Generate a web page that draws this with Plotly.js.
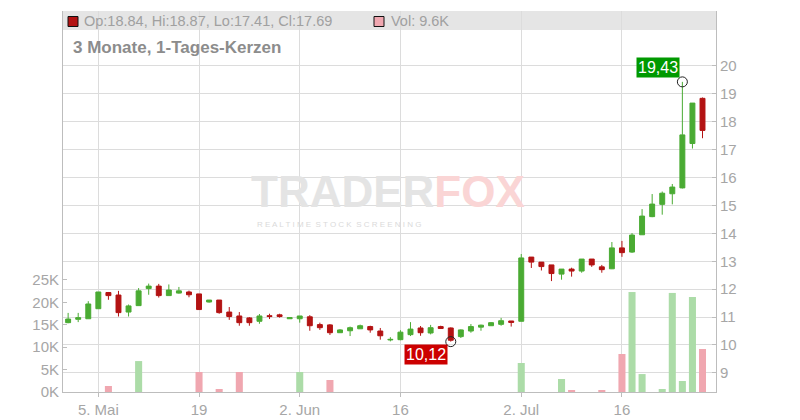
<!DOCTYPE html>
<html>
<head>
<meta charset="utf-8">
<script src="https://cdn.plot.ly/plotly-3.0.1.min.js"></script>
<style>html,body{margin:0;padding:0;background:#fff;}#chart{width:800px;height:420px;}</style>
</head>
<body>
<div id="chart"></div>
<script>
const dates = [
 '2025-04-30','2025-05-01','2025-05-02','2025-05-05','2025-05-06','2025-05-07','2025-05-08','2025-05-09',
 '2025-05-12','2025-05-13','2025-05-14','2025-05-15','2025-05-16','2025-05-19','2025-05-20','2025-05-21',
 '2025-05-22','2025-05-23','2025-05-26','2025-05-27','2025-05-28','2025-05-29','2025-05-30','2025-06-02',
 '2025-06-03','2025-06-04','2025-06-05','2025-06-06','2025-06-09','2025-06-10','2025-06-11','2025-06-12',
 '2025-06-13','2025-06-16','2025-06-17','2025-06-18','2025-06-19','2025-06-20','2025-06-23','2025-06-24',
 '2025-06-25','2025-06-26','2025-06-27','2025-06-30','2025-07-01','2025-07-02','2025-07-03','2025-07-04',
 '2025-07-07','2025-07-08','2025-07-09','2025-07-10','2025-07-11','2025-07-14','2025-07-15','2025-07-16',
 '2025-07-17','2025-07-18','2025-07-21','2025-07-22','2025-07-23','2025-07-24','2025-07-25','2025-07-28'
];
const opens = [10.80,10.92,10.94,11.30,11.88,11.79,11.18,11.41,12.02,12.11,11.77,11.86,11.90,11.83,11.54,11.61,
 11.18,11.04,10.97,10.85,11.05,11.08,10.94,10.94,11.01,10.73,10.72,10.44,10.51,10.58,10.66,10.50,
 10.18,10.19,10.37,10.61,10.43,10.66,10.61,10.30,10.50,10.64,10.69,10.74,10.86,10.85,13.15,12.97,
 12.87,12.54,12.72,12.65,13.08,12.80,12.73,13.48,13.33,13.95,14.60,15.04,15.42,15.63,17.22,18.84];
const highs = [11.15,11.15,11.57,11.90,11.90,11.94,11.45,12.04,12.20,12.19,12.17,12.08,11.95,11.83,11.61,11.61,
 11.36,11.18,11.00,11.11,11.12,11.12,11.00,11.04,11.07,10.80,10.75,10.57,10.66,10.73,10.69,10.61,
 10.28,10.53,10.82,10.68,10.72,10.69,10.63,10.56,10.75,10.73,10.82,10.97,10.86,13.26,13.15,12.97,
 12.87,12.72,12.77,13.08,13.08,12.87,13.69,13.73,14.01,14.87,15.41,15.50,15.77,19.43,18.67,18.87];
const lows = [10.78,10.82,10.94,11.30,11.62,11.02,11.02,11.41,11.80,11.70,11.77,11.84,11.71,11.27,11.52,11.12,
 10.90,10.69,10.69,10.76,10.93,10.98,10.94,10.80,10.51,10.54,10.36,10.44,10.32,10.58,10.44,10.19,
 10.13,10.17,10.32,10.33,10.38,10.59,10.12,10.25,10.44,10.51,10.68,10.69,10.66,10.85,12.76,12.67,
 12.29,12.34,12.45,12.59,12.80,12.59,12.72,13.16,13.30,13.95,14.58,14.67,15.04,15.61,17.04,17.41];
const closes = [10.93,10.98,11.47,11.90,11.77,11.16,11.40,11.94,12.11,11.77,11.97,11.94,11.80,11.27,11.61,11.16,
 11.02,10.80,10.80,11.04,11.02,11.02,10.98,11.04,10.69,10.62,10.44,10.54,10.62,10.69,10.54,10.33,
 10.20,10.46,10.57,10.44,10.62,10.59,10.17,10.54,10.66,10.71,10.80,10.87,10.81,13.12,12.97,12.81,
 12.56,12.72,12.65,13.08,12.87,12.70,13.48,13.31,13.94,14.62,15.05,15.44,15.66,17.53,18.67,17.69];
const volumes = [0,0,0,0,1340,0,0,6900,0,0,0,0,0,4460,0,670,
 0,4460,0,0,0,0,0,4460,0,0,2680,0,0,0,0,0,
 0,0,0,0,0,0,0,0,0,0,0,0,0,6470,0,0,
 0,2900,450,0,0,450,0,8480,22300,4000,0,670,22100,2450,21200,9600];
const xTickDates = ['2025-05-05','2025-05-19','2025-06-02','2025-06-16','2025-07-02','2025-07-16'];
const xTickLabels = ['5. Mai','19','2. Jun','16','2. Jul','16'];
const priceTicks = [9,10,11,12,13,14,15,16,17,18,19,20];
const volTicks = [0,5000,10000,15000,20000,25000];
const volTickLabels = ['0K','5K','10K','15K','20K','25K'];
const chartTitle = '3 Monate, 1-Tages-Kerzen';

const GREEN = '#4aab33', RED = '#b31313';
const VGREEN = '#acdca8', VPINK = '#f0a7b0';
const FONT = 'Liberation Sans, Arial, sans-serif';
const AX = '#a6a6a6';

const volColors = closes.map((c, i) => c >= opens[i] ? VGREEN : VPINK);

let minI = 0, maxI = 0;
lows.forEach((v, i) => { if (v < lows[minI]) minI = i; });
highs.forEach((v, i) => { if (v > highs[maxI]) maxI = i; });
const n = dates.length - 1;
const fmtDE = v => v.toFixed(2).replace('.', ',');
const lastVol = (volumes[n] / 1000).toFixed(1) + 'K';

const L = 63, R = 716, T = 11, B = 392;
const px = x => (x - L) / (R - L);
const py = y => 1 - (y - T) / (B - T);

const traces = [
  {type: 'bar', x: dates, y: volumes, marker: {color: volColors}, width: 0.7,
   xaxis: 'x', yaxis: 'y', hoverinfo: 'skip'},
  {type: 'candlestick', x: dates, open: opens, high: highs, low: lows, close: closes,
   xaxis: 'x', yaxis: 'y2', whiskerwidth: 0,
   increasing: {line: {color: GREEN, width: 1}, fillcolor: GREEN},
   decreasing: {line: {color: RED, width: 1}, fillcolor: RED}, hoverinfo: 'skip'},
  {type: 'scatter', mode: 'markers', x: [dates[minI], dates[maxI]], y: [lows[minI], highs[maxI]],
   xaxis: 'x', yaxis: 'y2', marker: {symbol: 'circle-open', size: 10, color: '#222', line: {width: 1}},
   hoverinfo: 'skip'}
];

const layout = {
  width: 800, height: 420,
  margin: {l: L, r: 800 - R, t: T, b: 420 - B, pad: 0},
  paper_bgcolor: '#ffffff', plot_bgcolor: 'rgba(0,0,0,0)',
  showlegend: false,
  font: {family: FONT, color: AX},
  xaxis: {type: 'category', range: [-0.51, 64.34], tickmode: 'array', tickvals: xTickDates, ticktext: xTickLabels,
    showgrid: true, gridcolor: '#dcdcdc', gridwidth: 1, showline: true, linecolor: '#bdbdbd',
    ticks: 'outside', ticklen: 4, tickcolor: '#bdbdbd', tickfont: {size: 15, color: AX},
    rangeslider: {visible: false}, fixedrange: true},
  yaxis: {side: 'left', range: [0, 85000], tickmode: 'array', tickvals: volTicks, ticktext: volTickLabels,
    showgrid: false, zeroline: false, showline: true, linecolor: '#bdbdbd', ticks: 'inside', ticklen: 4,
    tickcolor: '#bdbdbd', tickfont: {size: 15, color: AX}, fixedrange: true},
  yaxis2: {overlaying: 'y', side: 'right', range: [8.315, 21.97], tickmode: 'array', tickvals: priceTicks,
    showgrid: true, gridcolor: '#dcdcdc', gridwidth: 1, zeroline: false, showline: true, linecolor: '#bdbdbd',
    ticks: 'inside', ticklen: 4, tickcolor: '#bdbdbd', tickfont: {size: 15, color: AX}, fixedrange: true},
  shapes: [
    {type: 'rect', xref: 'paper', yref: 'paper', x0: 0, x1: 1, y0: py(30), y1: 1, layer: 'below',
     fillcolor: '#e5e5e5', line: {width: 0}},
    {type: 'rect', xref: 'paper', yref: 'paper', x0: px(68), x1: px(78), y0: py(26.5), y1: py(16.5),
     fillcolor: RED, line: {color: '#111', width: 1}},
    {type: 'rect', xref: 'paper', yref: 'paper', x0: px(374), x1: px(384), y0: py(26.5), y1: py(16.5),
     fillcolor: VPINK, line: {color: '#111', width: 1}}
  ],
  annotations: [
    {xref: 'paper', yref: 'paper', x: px(82), y: py(21), xanchor: 'left', yanchor: 'middle', showarrow: false,
     text: 'Op:' + opens[n].toFixed(2) + ', Hi:' + highs[n].toFixed(2) + ', Lo:' + lows[n].toFixed(2) + ', Cl:' + closes[n].toFixed(2),
     font: {size: 14.5, color: '#a0a0a0', family: FONT}},
    {xref: 'paper', yref: 'paper', x: px(389), y: py(21), xanchor: 'left', yanchor: 'middle', showarrow: false,
     text: 'Vol: ' + lastVol, font: {size: 14.5, color: '#a0a0a0', family: FONT}},
    {xref: 'paper', yref: 'paper', x: px(71), y: py(47), xanchor: 'left', yanchor: 'middle', showarrow: false,
     text: '<b>' + chartTitle + '</b>', font: {size: 17, color: '#8c8c8c', family: FONT}},
    {xref: 'paper', yref: 'paper', x: px(388), y: py(191), xanchor: 'center', yanchor: 'middle', showarrow: false,
     text: '<b>TRADER<span style="color:#fad5d5">FOX</span></b>', font: {size: 44, color: '#e4e4e4', family: FONT}},
    {xref: 'paper', yref: 'paper', x: px(339), y: py(224), xanchor: 'center', yanchor: 'middle', showarrow: false,
     text: 'R E A L T I M E  S T O C K  S C R E E N I N G', font: {size: 8, color: '#dadada', family: FONT}},
    {xref: 'x', yref: 'y2', x: dates[minI], y: lows[minI], showarrow: true, arrowcolor: 'rgba(0,0,0,0)', arrowwidth: 0.1,
     ax: -25, ay: 12.5, text: fmtDE(lows[minI]), bgcolor: '#cc0000', borderpad: 1,
     font: {size: 16, color: '#ffffff', family: FONT}},
    {xref: 'x', yref: 'y2', x: dates[maxI], y: highs[maxI], showarrow: true, arrowcolor: 'rgba(0,0,0,0)', arrowwidth: 0.1,
     ax: -24.5, ay: -14, text: fmtDE(highs[maxI]), bgcolor: '#009900', borderpad: 1,
     font: {size: 16, color: '#ffffff', family: FONT}}
  ]
};

Plotly.newPlot('chart', traces, layout, {staticPlot: true, displayModeBar: false});
</script>
</body>
</html>
